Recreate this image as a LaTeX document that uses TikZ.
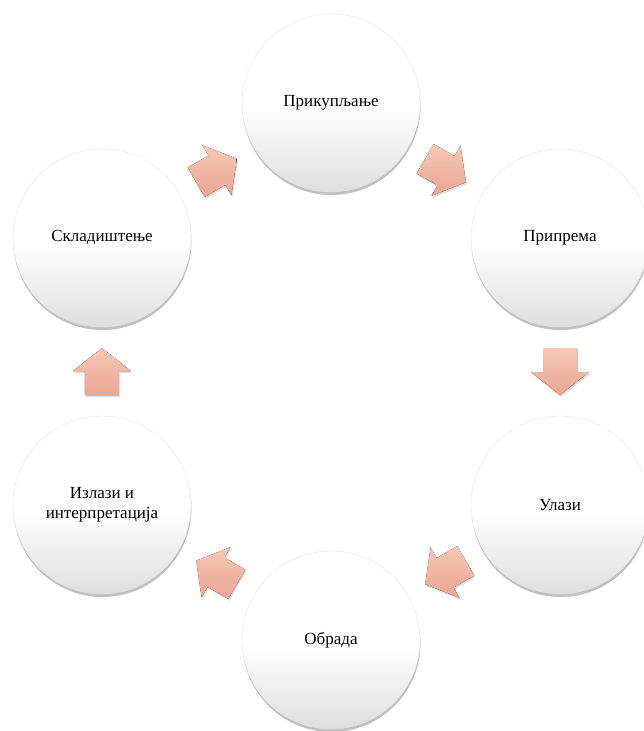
\documentclass[tikz,border=0pt]{standalone}
\usepackage{fontspec}
\setmainfont{Liberation Serif}
\usepackage{tikz}
\usetikzlibrary{calc,shadows}
\usepackage[dvipsnames,svgnames,x11names]{xcolor}

\definecolor{strelicaGore}{RGB}{247,200,183}
\definecolor{strelicaDole}{RGB}{234,165,146}
\pgfdeclareverticalshading{krug}{100bp}{color(0bp)=(black!13); color(25bp)=(black!13);
    color(48bp)=(white); color(100bp)=(white)}

\begin{document}
\begin{tikzpicture}[
    x=1pt, y=1pt,
    korak/.style={
        circle,
        minimum size=178pt,
        inner sep=0pt,
        align=center,
        font=\fontsize{17}{20}\selectfont,
        draw=black!10,
        shading=krug,
        drop shadow={shadow xshift=0.5pt, shadow yshift=-3pt,
            opacity=.35, fill=black!70}
    },
    strelica/.style={
        top color=strelicaGore,
        bottom color=strelicaDole,
        drop shadow={shadow xshift=1pt, shadow yshift=-2pt, opacity=.25}
    }
]

    \useasboundingbox (-331,-359.5) rectangle (313,371.5);

    % Кругови
    \node[korak] (prikupljanje) at (0,268.5) {Прикупљање};
    \node[korak] (priprema) at (229,133.5) {Припрема};
    \node[korak] (ulazi) at (229,-133.5) {Улази};
    \node[korak] (obrada) at (0,-268.5) {Обрада};
    \node[korak] (izlazi) at (-229,-133.5) {Излази и\\интерпретација};
    \node[korak] (skladistenje) at (-229,133.5) {Складиштење};

    % Стрелице
    \foreach \a/\b/\d in {prikupljanje/priprema/-30, priprema/ulazi/-90,
        ulazi/obrada/-150, obrada/izlazi/150,
        izlazi/skladistenje/90, skladistenje/prikupljanje/30} {
        \coordinate (m) at ($(\a)!0.5!(\b)$);
        \fill[strelica]
            ($(m)+(\d:23.5)$)
            -- ($(m)+(\d:0.5)+(\d+90:29)$)
            -- ($(m)+(\d:0.5)+(\d+90:17)$)
            -- ($(m)+(\d:-23.5)+(\d+90:17)$)
            -- ($(m)+(\d:-23.5)+(\d-90:17)$)
            -- ($(m)+(\d:0.5)+(\d-90:17)$)
            -- ($(m)+(\d:0.5)+(\d-90:29)$)
            -- cycle;
    }

\end{tikzpicture}
\end{document}
